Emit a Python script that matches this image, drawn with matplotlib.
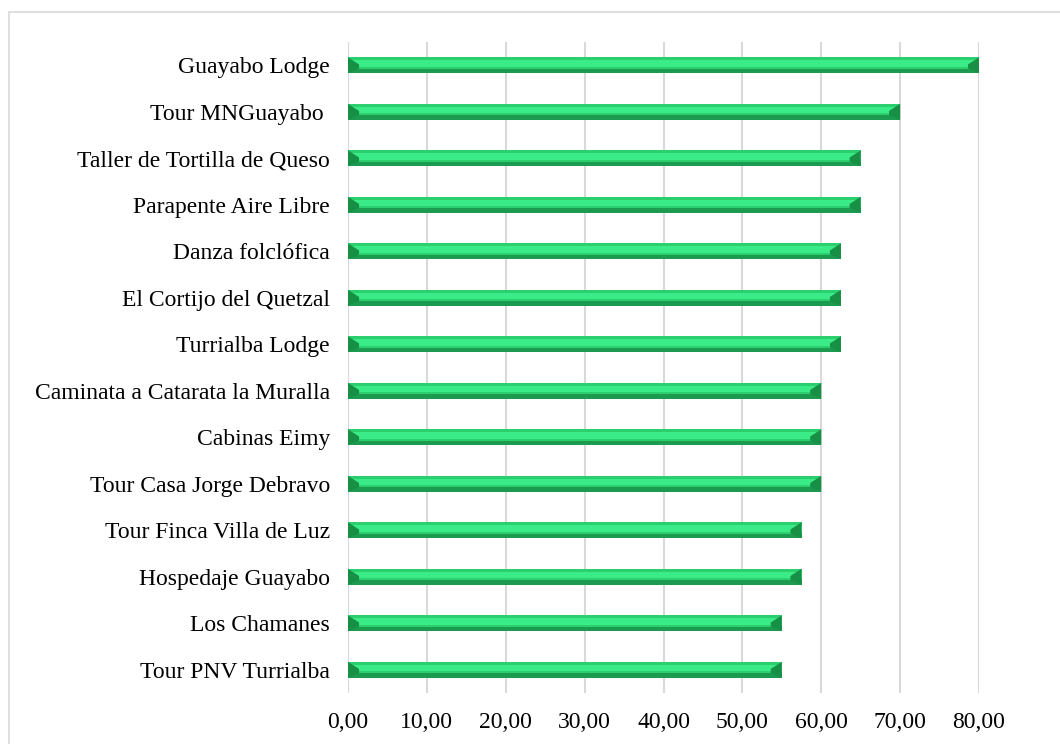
import matplotlib
matplotlib.use("Agg")
import matplotlib.pyplot as plt
from matplotlib.patches import Polygon, Rectangle

categories = [
    "Guayabo Lodge",
    "Tour MNGuayabo ",
    "Taller de Tortilla de Queso",
    "Parapente Aire Libre",
    "Danza folclófica",
    "El Cortijo del Quetzal",
    "Turrialba Lodge",
    "Caminata a Catarata la Muralla",
    "Cabinas Eimy",
    "Tour Casa Jorge Debravo",
    "Tour Finca Villa de Luz",
    "Hospedaje Guayabo",
    "Los Chamanes",
    "Tour PNV Turrialba",
]
values = [80, 70, 65, 65, 62.5, 62.5, 62.5, 60, 60, 60, 57.5, 57.5, 55, 55]
xticks = [0, 10, 20, 30, 40, 50, 60, 70, 80]
xticklabels = ["0,00", "10,00", "20,00", "30,00", "40,00", "50,00", "60,00", "70,00", "80,00"]

plt.rcParams["font.family"] = ["Liberation Serif", "DejaVu Serif"]

fig = plt.figure(figsize=(10.6, 7.44), dpi=100)
ax = fig.add_axes([348/1060, 1-693/744, (979-348)/1060, (693-42)/744])

# frame around chart
fig.patches.append(Rectangle((9/1060, -0.1), 1.2, 1-12/744+0.1, transform=fig.transFigure,
                             fill=False, edgecolor="#D9D9D9", linewidth=1.2))

ypos = list(range(len(categories)))
h = 0.34
dark = "#1B9A50"
mid = "#2BCF6E"
light = "#3AEB87"

ax.barh(ypos, values, height=h, color=dark, zorder=3)
# mid band (upper portion)
ax.barh([y - h*0.14 for y in ypos], values, height=h*0.72, color=mid, zorder=4)
# bright highlight band
ax.barh([y - h*0.12 for y in ypos], values, height=h*0.40, color=light, zorder=5)
# top thin edge
ax.barh([y - h*0.47 for y in ypos], values, height=h*0.06, color=mid, zorder=6)

# end bevels
for y, v in zip(ypos, values):
    top = y - h/2
    bot = y + h/2
    d = 1.4
    ax.add_patch(Polygon([(0, top), (0, bot), (d, y + h*0.2), (d, y - h*0.05)],
                         closed=True, color="#179046", zorder=7, linewidth=0))
    ax.add_patch(Polygon([(v, top), (v, bot), (v - d, y + h*0.2), (v - d, y - h*0.05)],
                         closed=True, color="#179046", zorder=7, linewidth=0))

ax.set_xlim(0, 80)
ax.set_ylim(len(categories) - 0.5, -0.5)
ax.set_yticks(ypos)
ax.set_yticklabels(categories, fontsize=17)
ax.set_xticks(xticks)
ax.set_xticklabels(xticklabels, fontsize=17)
ax.tick_params(axis="both", length=0)
ax.tick_params(axis="y", pad=13)
ax.tick_params(axis="x", pad=14)
ax.grid(axis="x", color="#D9D9D9", linewidth=1.5, zorder=0)
ax.set_axisbelow(True)
for s in ax.spines.values():
    s.set_visible(False)

fig.savefig("out.png", dpi=100)
